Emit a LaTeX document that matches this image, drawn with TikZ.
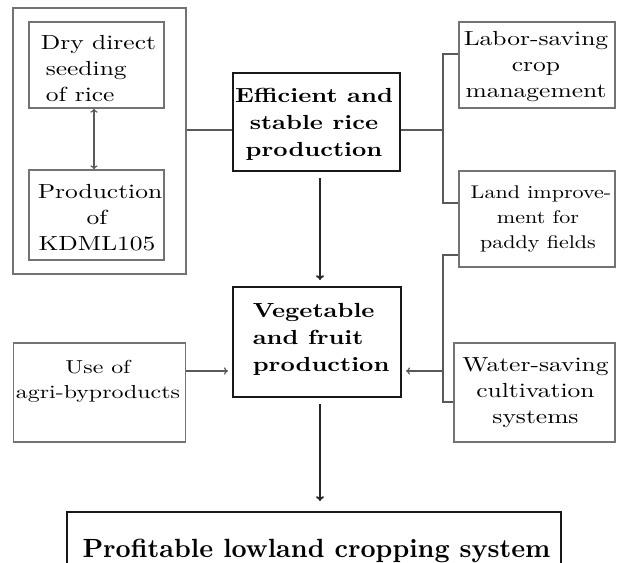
\documentclass[tikz,border=0pt]{standalone}
\usepackage{graphicx}
\usetikzlibrary{arrows.meta,calc}
% one stretched line of text (design-size 10 Latin Modern, widened)
\newcommand\wl[1]{\scalebox{0.625}[0.5]{\fontsize{10.2}{12}\selectfont #1}}
\newcommand\wsm[1]{\scalebox{0.54}[0.45]{\fontsize{10.2}{12}\selectfont #1}}
\newcommand\wus[1]{\scalebox{0.585}[0.46]{\fontsize{10.2}{12}\selectfont #1}}
\newcommand\wb[1]{\scalebox{0.61}[0.5]{\fontsize{10.2}{12}\selectfont\bfseries #1}}
\tikzset{
  thinbox/.style={draw=black!55, line width=0.3pt, inner sep=0pt},
  thickbox/.style={draw=black!90, line width=0.5pt, inner sep=0pt},
  txt/.style={inner sep=0pt, font=\fontsize{5.1}{6.5}\selectfont},
  smtxt/.style={inner sep=0pt, font=\fontsize{4.6}{6.25}\selectfont},
  btxt/.style={inner sep=0pt, font=\fontsize{5.1}{6.75}\selectfont},
  link/.style={draw=black!65, line width=0.3pt},
  thinarrow/.style={link, -{To[length=1pt,width=1.8pt]}},
  mainarrow/.style={draw=black!85, line width=0.45pt, -{To[length=1.2pt,width=2pt]}},
}
\begin{document}
\begin{tikzpicture}[x=0.25pt,y=-0.25pt]
\useasboundingbox (0,0) rectangle (623,562);
\clip (0,0) rectangle (623,562);
% boxes
\node[thinbox, minimum width=43.25pt, minimum height=66.5pt] (outer) at (99.5,141) {};
\node[thinbox, minimum width=33.75pt, minimum height=21.5pt] (dry) at (96.5,65) {};
\node[thinbox, minimum width=33.75pt, minimum height=22.5pt] (prodk) at (96.5,215) {};
\node[thickbox, minimum width=41.75pt, minimum height=24.5pt] (eff) at (316.5,122) {};
\node[thinbox, minimum width=39pt, minimum height=21.5pt] (labor) at (537,65) {};
\node[thinbox, minimum width=39pt, minimum height=24pt] (land) at (537,219) {};
\node[thickbox, minimum width=42pt, minimum height=27.5pt] (veg) at (317,342) {};
\node[thinbox, minimum width=43pt, minimum height=24.75pt] (use) at (99.5,392.5) {};
\node[thinbox, minimum width=40.25pt, minimum height=24.75pt] (water) at (534.5,392.5) {};
\node[thickbox, minimum width=123.5pt, minimum height=17pt] (bot) at (314,546) {};
% texts
\node[txt, anchor=west, align=left] (dryT) at (40,69) {\wl{Dry direct}\\\hspace*{1.25pt}\wl{seeding}\\\hspace*{1.25pt}\wl{of rice}};
\node[txt, align=center] (prodkT) at (97,218) {\hspace*{1.5pt}\wl{Production}\\\wl{of}\\\wl{KDML105}};
\node[btxt, align=center] (effT) at (314,124) {\wb{Efficient and}\\\wb{stable rice}\\\wb{production}};
\node[txt, align=center] (laborT) at (536,67) {\wl{Labor-saving}\\\wl{crop}\\\wl{management}};
\node[smtxt, align=center] (landT) at (538,219) {\hspace*{1.5pt}\wsm{Land improve-}\\\wsm{ment for}\\\wsm{paddy fields}};
\node[btxt, anchor=west, align=left] (vegT) at (252,339.5) {\wb{Vegetable}\\\wb{and fruit}\\\wb{production}};
\node[smtxt, align=center] (useT) at (98,381) {\wus{Use of}\\\wus{agri-byproducts}};
\node[txt, align=center] (waterT) at (535.5,393) {\wl{Water-saving}\\\wl{cultivation}\\\wl{systems}};
\node[inner sep=0pt, anchor=base] (botT) at (316.5,557) {\scalebox{0.645}{\fontsize{10.2}{12}\selectfont\bfseries Profitable lowland cropping system}};
% connectors
\coordinate (j1) at (443,130);
\coordinate (jt) at (443,54);
\coordinate (jb) at (443,203);
\coordinate (kt) at (443,255);
\coordinate (km) at (443,371);
\coordinate (kb) at (443,402);
\draw[thinarrow, {To[length=1pt,width=1.8pt]}-{To[length=1pt,width=1.8pt]}] (dry.south -| 94,0) -- (prodk.north -| 94,0);
\draw[link] (outer.east |- j1) -- (eff.west |- j1);
\draw[link] (eff.east |- j1) -- (j1);
\draw[link] (labor.west |- jt) -- (jt) -- (jb) -- (land.west |- jb);
\draw[link] (land.west |- kt) -- (kt) -- (kb) -- (water.west |- kb);
\draw[thinarrow, shorten >=1pt] (km) -- (veg.east |- km);
\draw[thinarrow, shorten >=1pt] (use.east |- km) -- (veg.west |- km);
\draw[mainarrow, shorten <=1.5pt, shorten >=1.5pt] (eff.south -| 320,0) -- (veg.north -| 320,0);
\draw[mainarrow, shorten <=1.5pt, shorten >=2.5pt] (veg.south -| 320,0) -- (bot.north -| 320,0);
\end{tikzpicture}
\end{document}
